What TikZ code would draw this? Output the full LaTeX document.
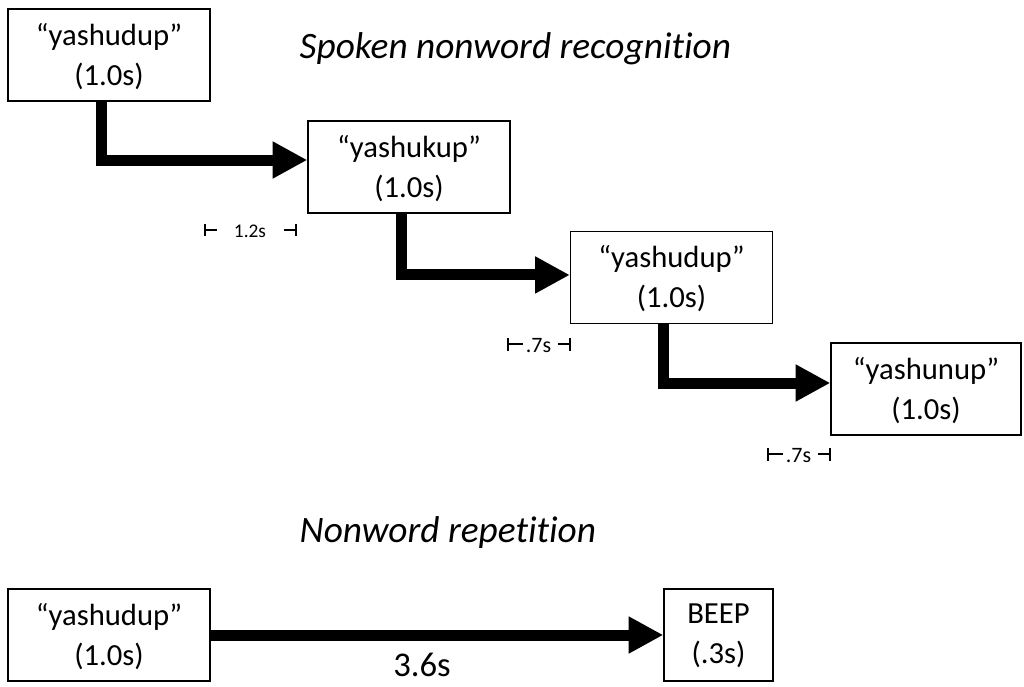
\documentclass[tikz,border=0pt]{standalone}
\usepackage{fontspec}
\setmainfont{Carlito}[Ligatures=CommonOff]
\usetikzlibrary{arrows.meta,positioning}

\begin{document}
\begin{tikzpicture}[x=0.75pt,y=-0.75pt,
% Stimulus boxes
		stim/.style={rectangle
							    , draw=black, line width=1pt
							    , minimum width=151.5pt
							    , minimum height=69pt
							    , inner sep=0pt
							    , text depth=1.5pt
							    , align=center
							    , font=\fontsize{23}{30}\selectfont},
		beep/.style={stim
							    , minimum width=81.75pt},
% Texts
		heading/.style={anchor=base west
							    , font=\fontsize{28}{32}\selectfont\itshape},
		gaplabel/.style={font=\fontsize{16.5}{18}\selectfont},
% Connectors
		flow/.style={line width=8.25pt
							    , line join=miter
							    , -{Triangle[length=26pt,width=26pt]}},
		gaptick/.style={line width=1pt}
	]
	\useasboundingbox (0,0) rectangle (1024,686);
%% Spoken nonword recognition
		\node [heading] (h1) at (295,58) {Spoken nonword recognition};
		\node [stim] (s1) at (109,55) {“yashudup”\\(1.0s)};
		\node [stim] (s2) at (409,167) {“yashukup”\\(1.0s)};
		\node [stim] (s3) at (671.5,277.5) {“yashudup”\\(1.0s)};
		\node [stim, minimum width=142.5pt] (s4) at (926,389) {“yashunup”\\(1.0s)};
		\draw [flow] ([xshift=-6pt]s1.south) |- ([yshift=5.25pt]s2.west);
		\draw [flow] ([xshift=-6pt]s2.south) |- ([yshift=1.9pt]s3.west);
		\draw [flow] ([xshift=-6pt]s3.south) |- ([yshift=4.5pt]s4.west);
%% Gaps between stimuli
		\node [gaplabel, font=\fontsize{14.5}{16}\selectfont] (g1) at (250,231) {1.2s};
		\draw [gaptick] (205,224) -- (205,236) (205,230) -- (217,230);
		\draw [gaptick] (284,230) -- (296,230) (296,224) -- (296,236);
		\node [gaplabel] (g2) at (538.5,346) {.7s};
		\draw [gaptick] (508,338) -- (508,351) (508,344) -- (523,344);
		\draw [gaptick] (558,344) -- (570,344) (570,338) -- (570,351);
		\node [gaplabel] (g3) at (798.5,456) {.7s};
		\draw [gaptick] (768,448) -- (768,461) (768,454) -- (783,454);
		\draw [gaptick] (818,454) -- (830,454) (830,448) -- (830,461);
%% Nonword repetition
		\node [heading] (h2) at (295,542) {Nonword repetition};
		\node [stim] (r1) at (109,635) {“yashudup”\\(1.0s)};
		\node [beep] (r2) at (718.5,635) {BEEP\\(.3s)};
		\draw [flow] (r1.east) -- (r2.west);
		\node [anchor=base, font=\fontsize{26}{30}\selectfont] (d1) at (422,676) {3.6s};
\end{tikzpicture}
\end{document}
